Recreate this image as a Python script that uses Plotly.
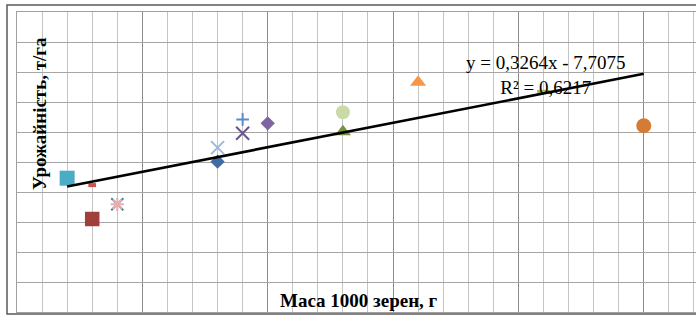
import plotly.graph_objects as go

# Data
mass = [39.5, 40.0, 40.0, 40.5, 40.5, 42.5, 42.5, 43.0, 43.0, 43.5, 45.0, 45.0, 46.5, 49.0, 51.0]
yield_ = [5.46, 5.23, 4.10, 4.59, 4.59, 6.48, 6.01, 7.42, 6.96, 7.29, 7.66, 7.01, 8.66, 8.34, 7.21]
symbols = ["square", "line-ew-open", "square", "x-thin-open", "asterisk-open", "x-thin-open",
           "diamond", "cross-thin-open", "x-thin-open", "diamond", "circle", "triangle-up",
           "triangle-up", "line-ew-open", "circle"]
colors = ["#4BACC6", "#D0504D", "#A0403D", "#31859C", "#E6AFAE", "#9DB8DC",
          "#3E6BA3", "#5A8ACB", "#6A5488", "#8064A2", "#C9DAA8", "#77933C",
          "#F79646", "#9BBB59", "#D47C36"]
sizes = [15, 5.5, 14.5, 12, 11, 13, 11, 9, 13, 11, 14, 14, 14, 9, 15]

slope, intercept = 0.3264, -7.7075
trend_x = [min(mass), max(mass)]
trend_y = [slope * x + intercept for x in trend_x]

x_title = "Маса 1000 зерен, г"
y_title = "Урожайність, т/га"
eq_text = "y = 0,3264x - 7,7075<br>R² = 0,6217"

fig = go.Figure()

for x, y, s, c, sz in zip(mass, yield_, symbols, colors, sizes):
    open_sym = s.endswith("-open")
    marker = dict(symbol=s, size=sz, color=c)
    if open_sym:
        lw = 4 if s.startswith("line-ew") else 2
        marker["line"] = dict(color=c, width=lw)
    else:
        marker["line"] = dict(width=0)
    fig.add_trace(go.Scatter(x=[x], y=[y], mode="markers", marker=marker,
                             showlegend=False, hoverinfo="skip"))

fig.add_trace(go.Scatter(x=trend_x, y=trend_y, mode="lines",
                         line=dict(color="black", width=2.6),
                         showlegend=False, hoverinfo="skip"))

W, H = 696, 317
ml, mr, mt, mb = 17, 0, 12, 5
pw, ph = W - ml - mr, H - mt - mb

fig.update_layout(
    width=W, height=H,
    margin=dict(l=ml, r=mr, t=mt, b=mb),
    paper_bgcolor="white", plot_bgcolor="white",
    font=dict(family="Liberation Serif", color="black"),
    xaxis=dict(range=[38.5, 38.5 + pw / 25.07 * 0.5], tick0=38.5, dtick=2.5,
               showgrid=True, gridcolor="#8C8C8C", gridwidth=1,
               minor=dict(tick0=38.5, dtick=0.5, showgrid=True, gridcolor="#C4C4C4", gridwidth=1),
               showticklabels=False, ticks="", zeroline=False,
               showline=True, linecolor="#A0A0A0", linewidth=1, mirror=True),
    yaxis=dict(range=[1, 11], tick0=1, dtick=1,
               showgrid=True, gridcolor="#A6A6A6", gridwidth=1,
               showticklabels=False, ticks="", zeroline=False,
               showline=True, linecolor="#A0A0A0", linewidth=1, mirror=True),
    shapes=[dict(type="rect", xref="paper", yref="paper",
                 x0=(7 - ml) / pw, x1=1.05,
                 y0=-(314 - (H - mb)) / ph, y1=1 + (mt - 5) / ph,
                 line=dict(color="#595959", width=1.5), layer="above")],
    annotations=[
        dict(text="<b>" + x_title + "</b>", xref="paper", yref="paper",
             x=(359 - ml) / pw, y=(H - mb - 300) / ph, xanchor="center", yanchor="middle",
             showarrow=False, font=dict(size=19, family="Liberation Serif")),
        dict(text="<b>" + y_title + "</b>", xref="paper", yref="paper",
             x=(39 - ml) / pw, y=1 - (114 - mt) / ph, xanchor="center", yanchor="middle",
             textangle=-90, showarrow=False, font=dict(size=19, family="Liberation Serif")),
        dict(text=eq_text, xref="paper", yref="paper",
             x=(546 - ml) / pw, y=1 - (75 - mt) / ph, xanchor="center", yanchor="middle",
             showarrow=False, font=dict(size=19, family="Liberation Serif")),
    ],
)

fig.write_html("out.html", config={"displayModeBar": False},
               post_script="document.body.style.margin='0';document.body.style.overflow='hidden';")
